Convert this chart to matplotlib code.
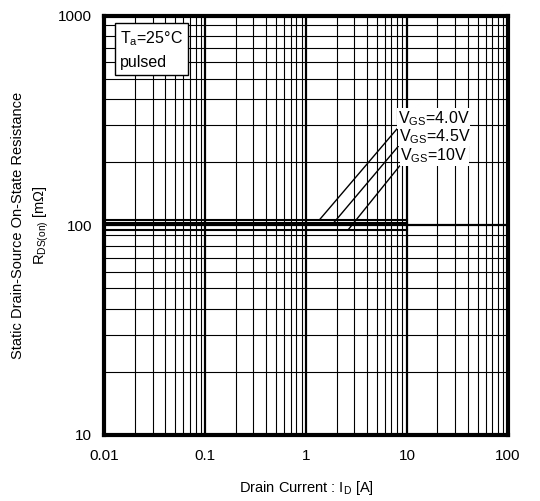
import matplotlib
matplotlib.use("Agg")
import matplotlib.pyplot as plt
from matplotlib.ticker import FixedLocator, NullFormatter

plt.rcParams["font.family"] = ["Liberation Sans", "DejaVu Sans"]
plt.rcParams["mathtext.fontset"] = "custom"
plt.rcParams["mathtext.rm"] = "Liberation Sans"

# R_DS(on) vs I_D, constant over the measured range
drain_current = [0.01, 10]
rds_vgs_4v0 = [106, 106]
rds_vgs_4v5 = [102, 102]
rds_vgs_10v = [95, 95]

series_labels = [
    r"$\mathregular{V_{GS}}$=4.0V",
    r"$\mathregular{V_{GS}}$=4.5V",
    r"$\mathregular{V_{GS}}$=10V",
]
# where each leader line touches its curve, and where its label sits
leader_x = [1.35, 1.85, 2.6]
label_xy = [(8.1, 323), (8.3, 266), (8.6, 215)]

x_ticks = [0.01, 0.1, 1, 10, 100]
x_tick_labels = ["0.01", "0.1", "1", "10", "100"]
y_ticks = [10, 100, 1000]
y_tick_labels = ["10", "100", "1000"]


def minor_positions(lo, hi):
    pos = []
    d = lo
    while d < hi:
        pos += [d * k for k in range(2, 10)]
        d *= 10
    return pos


fig = plt.figure(figsize=(5.4, 5.01), dpi=100)
ax = fig.add_axes([0.1935, 0.1323, 0.7472, 0.8364])

ax.set_xscale("log")
ax.set_yscale("log")
ax.set_xlim(0.01, 100)
ax.set_ylim(10, 1000)

ax.xaxis.set_major_locator(FixedLocator(x_ticks))
ax.yaxis.set_major_locator(FixedLocator(y_ticks))
ax.xaxis.set_minor_locator(FixedLocator(minor_positions(0.01, 100)))
ax.yaxis.set_minor_locator(FixedLocator(minor_positions(10, 1000)))
ax.xaxis.set_minor_formatter(NullFormatter())
ax.yaxis.set_minor_formatter(NullFormatter())
ax.set_xticklabels(x_tick_labels)
ax.set_yticklabels(y_tick_labels)
ax.tick_params(which="both", length=0, labelsize=11)
ax.tick_params(axis="x", pad=10)
ax.tick_params(axis="y", pad=9)

ax.grid(which="major", color="black", linewidth=1.6)
ax.grid(which="minor", color="black", linewidth=0.8)
ax.set_axisbelow(True)
for spine in ax.spines.values():
    spine.set_linewidth(3)

for values in (rds_vgs_4v0, rds_vgs_4v5, rds_vgs_10v):
    ax.plot(drain_current, values, color="black", linewidth=1.5, zorder=3)

for label, lx, (tx, ty), values in zip(
    series_labels, leader_x, label_xy, (rds_vgs_4v0, rds_vgs_4v5, rds_vgs_10v)
):
    ax.annotate(
        label,
        xy=(lx, values[0]),
        xytext=(tx, ty),
        ha="left",
        va="center",
        fontsize=11.5,
        bbox=dict(boxstyle="square,pad=0.05", fc="white", ec="none"),
        arrowprops=dict(arrowstyle="-", color="black", lw=1,
                        relpos=(0, 0), shrinkA=0, shrinkB=0),
        zorder=4,
    )

ax.text(
    0.038, 0.967, "$\\mathregular{T_a}$=25°C\npulsed",
    transform=ax.transAxes, ha="left", va="top", fontsize=11.5,
    linespacing=1.6,
    bbox=dict(boxstyle="square,pad=0.3", fc="white", ec="black", lw=1),
    zorder=5,
)

ax.set_xlabel(r"Drain Current : $\mathregular{I_D}$ [A]", fontsize=10.5, labelpad=12)
ax.set_ylabel(
    "Static Drain-Source On-State Resistance\n"
    r"$\mathregular{R_{DS(on)}}$ [m$\mathregular{\Omega}$]",
    fontsize=10.5, labelpad=5, linespacing=1.5,
)

fig.savefig("out.png", dpi=100)
